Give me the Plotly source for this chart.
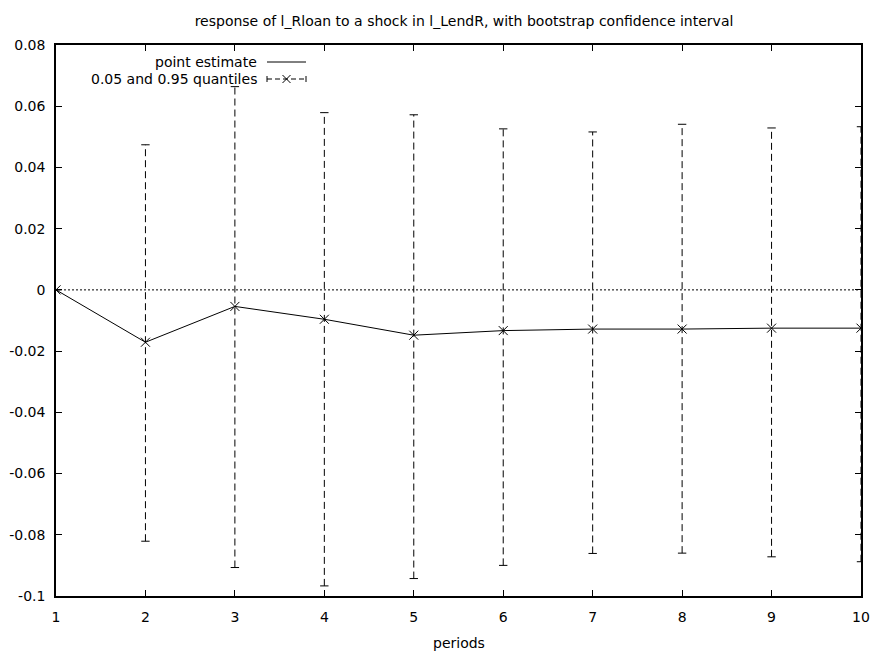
import plotly.graph_objects as go

# ---- data ----
periods = [1, 2, 3, 4, 5, 6, 7, 8, 9, 10]
point_estimate = [0.0, -0.0171, -0.0054, -0.0096, -0.0148, -0.0133, -0.0128, -0.0128, -0.0125, -0.0125]
q05 = [0.0, -0.0821, -0.0907, -0.0967, -0.0943, -0.0900, -0.0861, -0.0860, -0.0872, -0.0888]
q95 = [0.0, 0.0474, 0.0664, 0.0579, 0.0572, 0.0526, 0.0516, 0.0541, 0.0529, 0.0533]
y_tickvals = [0.08, 0.06, 0.04, 0.02, 0.0, -0.02, -0.04, -0.06, -0.08, -0.1]
y_ticktext = ["0.08", "0.06", "0.04", "0.02", "0", "-0.02", "-0.04", "-0.06", "-0.08", "-0.1"]
x_ticktext = [str(p) for p in periods]

title_text = "response of l_Rloan to a shock in l_LendR, with bootstrap confidence interval"
x_label = "periods"
legend_labels = ["point estimate", "0.05 and 0.95 quantiles"]

FONT = "DejaVu Sans"
W, H = 873, 653
L, R, T, B = 56, 12, 45, 57
PW, PH = W - L - R, H - T - B


def px(xp):
    return (xp - L) / PW


def py(yp):
    return (H - B - yp) / PH


fig = go.Figure()

# dashed vertical quantile bars
bx, by = [], []
for p, lo, hi in zip(periods, q05, q95):
    bx += [p, p, None]
    by += [lo, hi, None]
fig.add_trace(go.Scatter(x=bx, y=by, mode="lines",
                         line=dict(color="black", width=1, dash="7px,4px"),
                         showlegend=False, hoverinfo="skip"))
# caps
fig.add_trace(go.Scatter(x=periods + periods, y=q05 + q95, mode="markers",
                         marker=dict(symbol="line-ew", size=6,
                                     line=dict(color="black", width=1)),
                         showlegend=False, hoverinfo="skip"))
# point estimate line
fig.add_trace(go.Scatter(x=periods, y=point_estimate, mode="lines+markers",
                         line=dict(color="black", width=1),
                         marker=dict(symbol="x-thin", size=9,
                                     line=dict(color="black", width=1)),
                         showlegend=False))

shapes = []
# dotted zero line
shapes.append(dict(type="line", xref="paper", yref="y", x0=0, x1=1, y0=0, y1=0,
                   line=dict(color="black", width=1, dash="2px,2px"), layer="below"))

# legend (gnuplot style: text then sample)
ly1, ly2 = py(62), py(79)
xs0, xs1 = px(267), px(306)
shapes.append(dict(type="line", xref="paper", yref="paper", x0=xs0, x1=xs1, y0=ly1, y1=ly1,
                   line=dict(color="black", width=1)))
shapes.append(dict(type="line", xref="paper", yref="paper", x0=xs0, x1=xs1, y0=ly2, y1=ly2,
                   line=dict(color="black", width=1, dash="5px,3px")))
cap = 3 / PH
for xx in (xs0, xs1):
    shapes.append(dict(type="line", xref="paper", yref="paper", x0=xx, x1=xx,
                       y0=ly2 - cap, y1=ly2 + cap, line=dict(color="black", width=1)))
mx, my = px(286.5), ly2
dx, dy = 4 / PW, 4 / PH
shapes.append(dict(type="line", xref="paper", yref="paper", x0=mx - dx, x1=mx + dx,
                   y0=my - dy, y1=my + dy, line=dict(color="black", width=1)))
shapes.append(dict(type="line", xref="paper", yref="paper", x0=mx - dx, x1=mx + dx,
                   y0=my + dy, y1=my - dy, line=dict(color="black", width=1)))

annotations = []
for lab, yy in zip(legend_labels, (ly1, ly2)):
    annotations.append(dict(text=lab, xref="paper", yref="paper", x=px(259), y=yy,
                            xanchor="right", yanchor="middle", showarrow=False,
                            font=dict(family=FONT, size=14, color="black")))
# x-axis label
annotations.append(dict(text=x_label, xref="paper", yref="paper", x=px(458.5), y=py(643),
                        xanchor="center", yanchor="middle", showarrow=False,
                        font=dict(family=FONT, size=14, color="black")))

axis_common = dict(showline=True, linecolor="black", linewidth=1.5, mirror="ticks",
                   ticks="inside", ticklen=6, tickcolor="black", tickwidth=1,
                   showgrid=False, zeroline=False, automargin=False,
                   tickfont=dict(family=FONT, size=14, color="black"))

fig.update_layout(
    width=W, height=H,
    margin=dict(l=L, r=R, t=T, b=B),
    paper_bgcolor="white", plot_bgcolor="white",
    title=dict(text=title_text, x=464 / W, xanchor="center", y=1 - 21 / H, yanchor="middle",
               font=dict(family=FONT, size=14, color="black")),
    xaxis=dict(range=[1, 10], tickvals=periods, ticktext=x_ticktext,
               ticklabelstandoff=7, **axis_common),
    yaxis=dict(range=[-0.1, 0.08], tickvals=y_tickvals, ticktext=y_ticktext,
               ticklabelstandoff=6, **axis_common),
    shapes=shapes, annotations=annotations,
    showlegend=False,
)

fig.write_html("out.html", config={"displayModeBar": False},
               post_script="document.body.style.margin='0';")
